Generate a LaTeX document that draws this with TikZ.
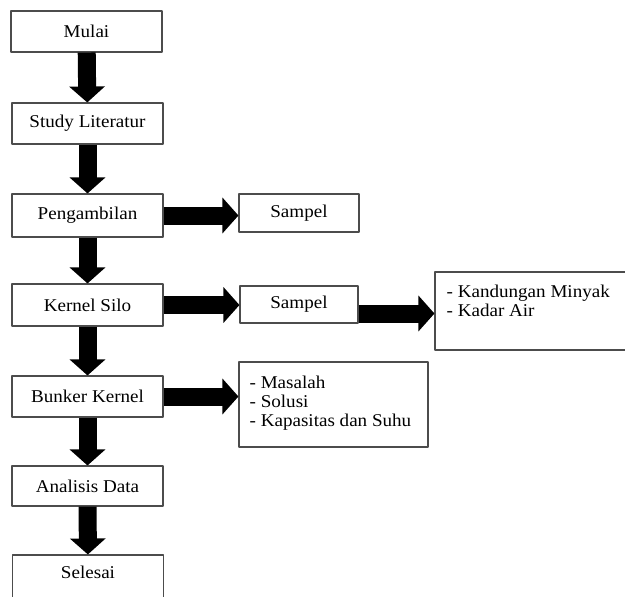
\documentclass[tikz,border=0pt]{standalone}
\usepackage{fontspec}
\setmainfont{Liberation Serif}[FakeStretch=1.06]
\usetikzlibrary{arrows.meta}
\begin{document}
\begin{tikzpicture}[x=1pt, y=-1pt, font=\fontsize{18}{19}\selectfont, line join=round,
	box/.style={draw=black!70, line width=1.1pt, inner sep=0pt, minimum width=151pt, minimum height=41pt},
	blk/.style={line width=18pt, -{Triangle[width=35pt,length=16pt]}}]
	\useasboundingbox (0,0) rectangle (625,597);
	\clip (0,0) rectangle (625,597);
			\node[box] (mulai) at (86.5,31.5) {Mulai};
			\node[box] (study) at (87.5,123.5) {Study Literatur};
			\node[box, minimum height=43pt] (peng) at (87.5,215.5) {Pengambilan};
			\node[box, minimum height=42pt] (kernel) at (87.5,305) {Kernel Silo};
			\node[box] (bunker) at (87.5,396.5) {Bunker Kernel};
			\node[box, minimum height=40pt] (analisis) at (87.5,486) {Analisis Data};
			\node[box, minimum height=44pt] (selesai) at (88,577) {};
			\node[anchor=north] (seltext) at ([yshift=-8pt]selesai.north) {Selesai};
			\node[box, minimum width=120pt, minimum height=38pt] (sampA) at (299,213) {Sampel};
			\node[box, minimum width=118pt, minimum height=37pt] (sampB) at (299,304.5) {Sampel};
			\node[box, minimum width=195pt, minimum height=78pt] (kbox) at (532.5,311) {};
			\node[box, minimum width=189pt, minimum height=85pt] (mbox) at (333.5,404.5) {};
			\node[anchor=north west, align=left, inner sep=0pt] (ktext) at ([xshift=12pt,yshift=-13pt]kbox.north west) {- Kandungan Minyak\\- Kadar Air};
			\node[anchor=north west, align=left, inner sep=0pt] (mtext) at ([xshift=11pt,yshift=-14pt]mbox.north west) {- Masalah\\- Solusi\\- Kapasitas dan Suhu};
			\draw[blk] (mulai) -- (study);
			\draw[blk] (study) -- (peng);
			\draw[blk] (peng) -- (kernel);
			\draw[blk] (kernel) -- (bunker);
			\draw[blk] (bunker) -- (analisis);
			\draw[blk] (analisis) -- (selesai);
			\draw[blk] (peng.east) -- (peng.east -| sampA.west);
			\draw[blk] (kernel.east) -- (kernel.east -| sampB.west);
			\draw[blk] ([yshift=-9pt]sampB.east) -- ([yshift=-9pt]sampB.east -| kbox.west);
			\draw[blk] (bunker.east) -- (bunker.east -| mbox.west);
	\end{tikzpicture}
\end{document}
